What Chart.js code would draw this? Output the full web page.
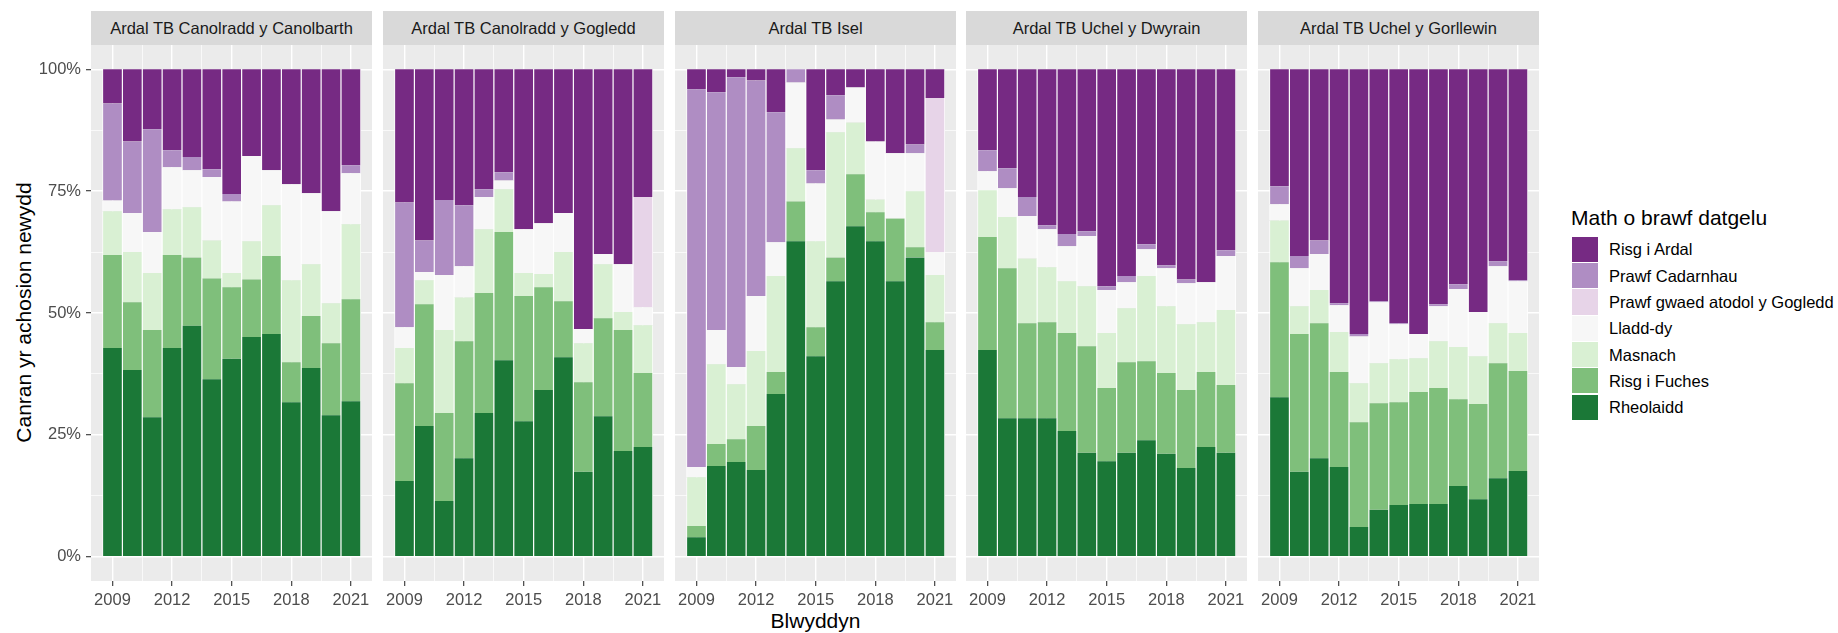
<!DOCTYPE html>
<html>
<head>
<meta charset="utf-8">
<script src="https://cdn.jsdelivr.net/npm/chart.js@4.4.1/dist/chart.umd.min.js"></script>
<style>
  html, body { margin: 0; padding: 0; background: #ffffff; }
  body { width: 1838px; height: 633px; position: relative; overflow: hidden;
         font-family: "Liberation Sans", Arial, Helvetica, sans-serif; }
  .strip { position: absolute; top: 11px; height: 34px; background: #D9D9D9; color: #1A1A1A;
           font-size: 16.5px; line-height: 34px; text-align: center; white-space: nowrap; }
  canvas { position: absolute; }
  .xtitle { position: absolute; left: 91px; width: 1449px; top: 610px; font-size: 21px; line-height: 21px;
            text-align: center; color: #000; }
  .ytitle { position: absolute; left: -177px; top: 302px; width: 400px; font-size: 21px; line-height: 21px;
            text-align: center; color: #000; transform: rotate(-90deg); transform-origin: 50% 50%; white-space: nowrap; }
  .legtitle { position: absolute; left: 1571px; top: 207px; font-size: 21px; line-height: 21px; color: #000; white-space: nowrap; }
  .legkey { position: absolute; left: 1572px; width: 25.5px; height: 25.3px; }
  .leglab { position: absolute; left: 1609px; font-size: 16.5px; line-height: 20px; color: #000; white-space: nowrap; }
</style>
</head>
<body>
<div class="ytitle">Canran yr achosion newydd</div>
<div class="xtitle">Blwyddyn</div>
<script>
// ---------------- data ----------------
const years = [2009, 2010, 2011, 2012, 2013, 2014, 2015, 2016, 2017, 2018, 2019, 2020, 2021];
const panels = ['Ardal TB Canolradd y Canolbarth', 'Ardal TB Canolradd y Gogledd', 'Ardal TB Isel',
                'Ardal TB Uchel y Dwyrain', 'Ardal TB Uchel y Gorllewin'];
// stacking order, bottom to top
const categories = ['Rheolaidd', 'Risg i Fuches', 'Masnach', 'Lladd-dy',
                    'Prawf gwaed atodol y Gogledd', 'Prawf Cadarnhau', 'Risg i Ardal'];
const colours = ['#1B7837', '#7FBF7B', '#D9F0D3', '#F7F7F7', '#E7D4E8', '#AF8DC3', '#762A83'];
const xTickValues = [2009, 2010.5, 2012, 2013.5, 2015, 2016.5, 2018, 2019.5, 2021];
const xTickLabels = { 2009: '2009', 2012: '2012', 2015: '2015', 2018: '2018', 2021: '2021' };
const yTickValues = [0, 0.125, 0.25, 0.375, 0.5, 0.625, 0.75, 0.875, 1];
const yTickLabels = { 0: '0%', 0.25: '25%', 0.5: '50%', 0.75: '75%', 1: '100%' };
const legendTitle = 'Math o brawf datgelu';

// one row per panel (in panel order), 13 yearly shares each
const rheolaidd = [
  [.428, .383, .286, .428, .474, .364, .406, .451, .457, .317, .387, .290, .319],
  [.155, .268, .114, .202, .295, .403, .278, .342, .409, .174, .288, .217, .225],
  [.040, .186, .194, .178, .334, .647, .411, .565, .678, .647, .565, .614, .424],
  [.424, .284, .284, .284, .258, .213, .196, .213, .239, .211, .182, .225, .213],
  [.327, .174, .202, .184, .061, .096, .106, .108, .108, .145, .118, .161, .176]
];
const risgFuches = [
  [.191, .139, .179, .191, .140, .207, .147, .118, .160, .082, .107, .148, .209],
  [.201, .250, .181, .240, .246, .263, .257, .211, .115, .184, .201, .248, .152],
  [.023, .045, .047, .090, .045, .082, .060, .049, .107, .060, .129, .021, .057],
  [.232, .308, .195, .197, .201, .219, .150, .186, .162, .166, .160, .154, .139],
  [.277, .283, .277, .195, .215, .219, .211, .230, .238, .178, .195, .236, .205]
];
const masnach = [
  [.090, .103, .117, .094, .103, .078, .029, .078, .104, .168, .106, .082, .154],
  [.072, .049, .170, .090, .131, .088, .047, .027, .101, .080, .111, .037, .098],
  [.100, .164, .113, .154, .197, .109, .176, .257, .106, .026, 0, .115, .097],
  [.096, .105, .133, .113, .106, .123, .113, .111, .175, .137, .135, .102, .154],
  [.086, .057, .068, .082, .080, .082, .088, .069, .096, .107, .098, .082, .078]
];
const lladdDy = [
  [.022, .080, .084, .086, .076, .130, .147, .175, .072, .197, .146, .189, .105],
  [.043, .017, .113, .064, .066, .018, .090, .104, .080, .029, .021, .098, .037],
  [.021, .070, .035, .113, .069, .135, .119, .026, .072, .119, .134, .078, .047],
  [.039, .059, .087, .078, .072, .103, .088, .053, .055, .078, .084, .082, .111],
  [.033, .078, .074, .055, .096, .125, .072, .050, .072, .119, .091, .117, .106]
];
const prawfGwaed = [
  [0, 0, 0, 0, 0, 0, 0, 0, 0, 0, 0, 0, 0],
  [0, 0, 0, 0, 0, 0, 0, 0, 0, 0, 0, 0, .226],
  [0, 0, 0, 0, 0, 0, 0, 0, 0, 0, 0, 0, .316],
  [0, 0, 0, 0, 0, 0, 0, 0, 0, 0, 0, 0, 0],
  [0, 0, 0, 0, 0, 0, 0, 0, 0, 0, 0, 0, 0]
];
const prawfCadarnhau = [
  [.199, .147, .211, .035, .027, .016, .015, 0, 0, 0, 0, 0, .016],
  [.256, .065, .154, .125, .016, .017, 0, 0, 0, 0, 0, 0, 0],
  [.775, .488, .595, .442, .267, .027, .027, .050, 0, 0, 0, .018, 0],
  [.043, .041, .039, .008, .025, .010, .008, .013, .010, .006, .008, 0, .012],
  [.037, .025, .028, .004, .005, .002, .002, 0, .004, .010, 0, .010, .002]
];
const risgArdal = [
  [.070, .148, .123, .166, .180, .205, .256, .178, .207, .236, .254, .291, .197],
  [.273, .351, .268, .279, .246, .211, .328, .316, .295, .533, .379, .400, .262],
  [.041, .047, .016, .023, .088, 0, .207, .053, .037, .148, .172, .154, .059],
  [.166, .203, .262, .320, .338, .332, .445, .424, .359, .402, .431, .437, .371],
  [.240, .383, .351, .480, .543, .476, .521, .543, .482, .441, .498, .394, .433]
];
const seriesByCategory = [rheolaidd, risgFuches, masnach, lladdDy, prawfGwaed, prawfCadarnhau, risgArdal];

// ---------------- layout ----------------
const PANEL_LEFT = [91, 383, 675, 966, 1258];
const PANEL_W = 281;
const PANEL_TOP = 45;
const PANEL_H = 536;
const X_AXIS_H = 40;
const FONT = '"Liberation Sans", Arial, Helvetica, sans-serif';

Chart.defaults.font.family = FONT;
Chart.defaults.font.size = 16.5;
Chart.defaults.color = '#4D4D4D';

const panelBg = {
  id: 'panelBg',
  beforeDraw(chart) {
    const a = chart.chartArea, c = chart.ctx;
    c.save(); c.fillStyle = '#EBEBEB'; c.fillRect(a.left, a.top, a.right - a.left, a.bottom - a.top); c.restore();
  }
};

function isMajorX(v) { return xTickLabels[v] !== undefined; }
function isMajorY(v) { return yTickLabels[v] !== undefined; }
function noPad(s) { s.paddingTop = 0; s.paddingBottom = 0; s.paddingLeft = 0; s.paddingRight = 0; }

panels.forEach((name, p) => {
  const strip = document.createElement('div');
  strip.className = 'strip';
  strip.style.left = PANEL_LEFT[p] + 'px';
  strip.style.width = PANEL_W + 'px';
  strip.textContent = name;
  document.body.appendChild(strip);

  const first = p === 0;
  const yW = first ? PANEL_LEFT[0] : 0;
  const cv = document.createElement('canvas');
  const cw = PANEL_W + yW, ch = PANEL_H + X_AXIS_H;
  cv.width = cw; cv.height = ch;
  cv.style.width = cw + 'px'; cv.style.height = ch + 'px';
  cv.style.left = (PANEL_LEFT[p] - yW) + 'px';
  cv.style.top = PANEL_TOP + 'px';
  document.body.appendChild(cv);

  const datasets = categories.map((cat, k) => ({
    label: cat,
    data: years.map((yr, i) => ({ x: yr, y: seriesByCategory[k][p][i] === 0 ? null : seriesByCategory[k][p][i] })),
    backgroundColor: colours[k],
    borderColor: '#FFFFFF',
    borderWidth: { top: 0, bottom: 0, left: 0.9, right: 0.9 },
    borderSkipped: false,
    inflateAmount: 0.3,
    categoryPercentage: 1.0,
    barPercentage: 1.0
  }));

  new Chart(cv, {
    type: 'bar',
    data: { datasets },
    plugins: [panelBg],
    options: {
      responsive: false,
      animation: false,
      devicePixelRatio: 1,
      layout: { padding: 0 },
      plugins: { legend: { display: false }, tooltip: { enabled: false }, title: { display: false } },
      scales: {
        x: {
          type: 'linear', stacked: true, min: 2007.92, max: 2022.06, bounds: 'data', offset: false,
          afterBuildTicks: s => { s.ticks = xTickValues.map(v => ({ value: v })); },
          afterFit: s => { s.height = X_AXIS_H; noPad(s); },
          ticks: {
            autoSkip: false, maxRotation: 0, minRotation: 0, padding: 5, color: '#4D4D4D',
            font: { size: 16.5, family: FONT },
            callback: v => xTickLabels[v] !== undefined ? xTickLabels[v] : ''
          },
          grid: {
            offset: false,
            color: '#FFFFFF',
            lineWidth: c => (c.tick && isMajorX(c.tick.value)) ? 1.4 : 0.7,
            drawTicks: true, tickLength: 5,
            tickColor: c => (c.tick && isMajorX(c.tick.value)) ? '#333333' : 'rgba(0,0,0,0)',
            tickWidth: 1.1
          },
          border: { display: false }
        },
        y: {
          type: 'linear', stacked: true, min: -0.05, max: 1.05, bounds: 'data',
          afterBuildTicks: s => { s.ticks = yTickValues.map(v => ({ value: v })); },
          afterFit: s => { s.width = yW; noPad(s); },
          ticks: {
            display: first, padding: 5, color: '#4D4D4D', autoSkip: false,
            font: { size: 16.5, family: FONT },
            callback: v => yTickLabels[v] !== undefined ? yTickLabels[v] : ''
          },
          grid: {
            color: '#FFFFFF',
            lineWidth: c => (c.tick && isMajorY(c.tick.value)) ? 1.4 : 0.7,
            drawTicks: first, tickLength: 5,
            tickColor: c => (c.tick && isMajorY(c.tick.value)) ? '#333333' : 'rgba(0,0,0,0)',
            tickWidth: 1.1
          },
          border: { display: false }
        }
      }
    }
  });
});

// ---------------- legend ----------------
const lt = document.createElement('div');
lt.className = 'legtitle';
lt.textContent = legendTitle;
document.body.appendChild(lt);
const order = categories.map((c, k) => k).reverse();
order.forEach((k, row) => {
  const top = 236.7 + row * 26.3;
  const key = document.createElement('div');
  key.className = 'legkey';
  key.style.top = top + 'px';
  key.style.background = colours[k];
  document.body.appendChild(key);
  const lab = document.createElement('div');
  lab.className = 'leglab';
  lab.style.top = (top + 12.6 - 10) + 'px';
  lab.textContent = categories[k];
  document.body.appendChild(lab);
});
</script>
</body>
</html>
